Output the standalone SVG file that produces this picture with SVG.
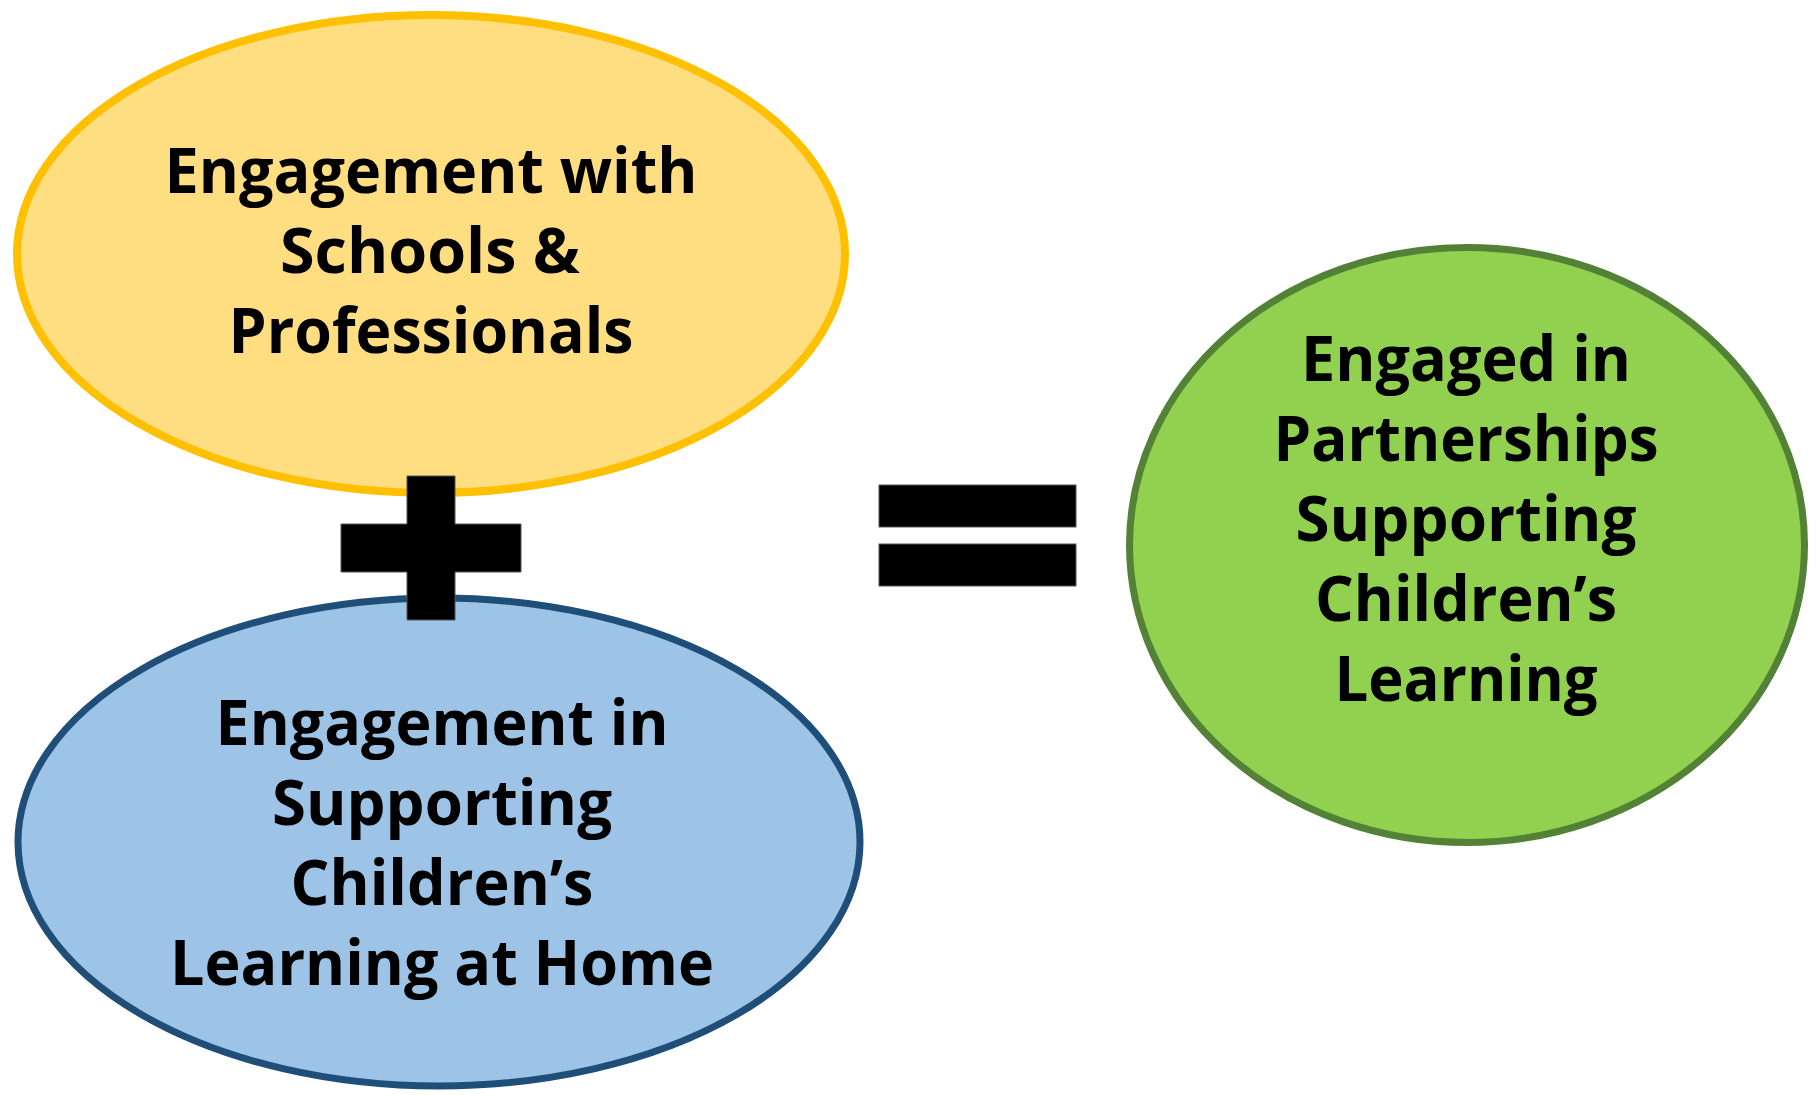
<svg xmlns="http://www.w3.org/2000/svg" width="1818" height="1095" viewBox="0 0 1818 1095">
<style>
.lbl{font-family:"Open Sans","Liberation Sans",sans-serif;font-weight:700;font-size:62px;fill:#000;text-anchor:middle}
.op{fill:#000;stroke:#555;stroke-width:1}
</style>
<rect width="1818" height="1095" fill="#fff"/>
<g id="node-schools">
<ellipse cx="431" cy="254" rx="414" ry="239" fill="#FFDE82" stroke="#FFC000" stroke-width="8"/>
</g>
<g id="node-home">
<ellipse cx="439" cy="842" rx="421" ry="244" fill="#9DC3E6" stroke="#1F4E79" stroke-width="7"/>
</g>
<g id="node-partnerships">
<ellipse cx="1467" cy="545" rx="337.5" ry="297.5" fill="#92D050" stroke="#538135" stroke-width="7"/>
</g>
<g id="connectors">
<path class="op" d="M407 476H455V524H521V572H455V620H407V572H341V524H407Z"/>
<rect class="op" x="879" y="485" width="197" height="42"/>
<rect class="op" x="879" y="544" width="197" height="42"/>
</g>
<g id="labels-schools">
<text class="lbl" x="431" y="193" textLength="533" lengthAdjust="spacingAndGlyphs">Engagement with</text>
<text class="lbl" x="430" y="273" textLength="300" lengthAdjust="spacingAndGlyphs">Schools &amp;</text>
<text class="lbl" x="431" y="353" textLength="405" lengthAdjust="spacingAndGlyphs">Professionals</text>
</g>
<g id="labels-home">
<text class="lbl" x="442" y="745" textLength="453" lengthAdjust="spacingAndGlyphs">Engagement in</text>
<text class="lbl" x="442" y="825" textLength="340" lengthAdjust="spacingAndGlyphs">Supporting</text>
<text class="lbl" x="442" y="905" textLength="303" lengthAdjust="spacingAndGlyphs">Children’s</text>
<text class="lbl" x="442" y="985" textLength="544" lengthAdjust="spacingAndGlyphs">Learning at Home</text>
</g>
<g id="labels-partnerships">
<text class="lbl" x="1466" y="381" textLength="330" lengthAdjust="spacingAndGlyphs">Engaged in</text>
<text class="lbl" x="1466" y="461" textLength="385" lengthAdjust="spacingAndGlyphs">Partnerships</text>
<text class="lbl" x="1466" y="541" textLength="341" lengthAdjust="spacingAndGlyphs">Supporting</text>
<text class="lbl" x="1466" y="621" textLength="302" lengthAdjust="spacingAndGlyphs">Children’s</text>
<text class="lbl" x="1466" y="701" textLength="263" lengthAdjust="spacingAndGlyphs">Learning</text>
</g>
</svg>
